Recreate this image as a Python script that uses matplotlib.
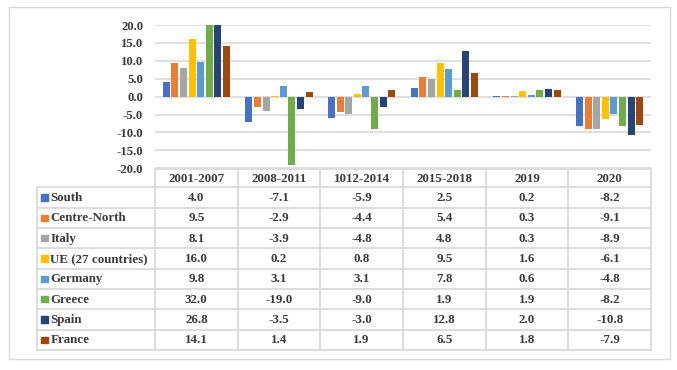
import matplotlib
matplotlib.use("Agg")
import matplotlib.pyplot as plt
from matplotlib.patches import Rectangle
import numpy as np

periods = ["2001-2007", "2008-2011", "1012-2014", "2015-2018", "2019", "2020"]
series_names = ["South", "Centre-North", "Italy", "UE (27 countries)", "Germany",
                "Greece", "Spain", "France"]
south = [4.0, -7.1, -5.9, 2.5, 0.2, -8.2]
centre_north = [9.5, -2.9, -4.4, 5.4, 0.3, -9.1]
italy = [8.1, -3.9, -4.8, 4.8, 0.3, -8.9]
ue27 = [16.0, 0.2, 0.8, 9.5, 1.6, -6.1]
germany = [9.8, 3.1, 3.1, 7.8, 0.6, -4.8]
greece = [32.0, -19.0, -9.0, 1.9, 1.9, -8.2]
spain = [26.8, -3.5, -3.0, 12.8, 2.0, -10.8]
france = [14.1, 1.4, 1.9, 6.5, 1.8, -7.9]
series_values = [south, centre_north, italy, ue27, germany, greece, spain, france]
colors = ["#4472C4", "#ED7D31", "#A5A5A5", "#FFC000", "#5B9BD5", "#70AD47",
          "#264478", "#9E480E"]
yticks = [-20, -15, -10, -5, 0, 5, 10, 15, 20]

W, H = 677, 370
plt.rcParams['font.family'] = ['Liberation Serif', 'DejaVu Serif']
txt_color = "#3A3A3A"
grid_color = "#D9D9D9"

fig = plt.figure(figsize=(W / 100, H / 100), dpi=100)

# overlay axes in pixel coordinates for borders and table
ov = fig.add_axes([0, 0, 1, 1])
ov.set_xlim(0, W)
ov.set_ylim(H, 0)
ov.axis("off")

# outer border
ov.add_patch(Rectangle((8.5, 7), 661, 352, fill=False, edgecolor=grid_color, lw=1))

# chart axes
x0, x1 = 155, 651
ytop, ybot = 25, 168.3
ax = fig.add_axes([x0 / W, 1 - ybot / H, (x1 - x0) / W, (ybot - ytop) / H])
ax.set_xlim(0, len(periods))
ax.set_ylim(-20, 20)
for s in ax.spines.values():
    s.set_visible(False)
ax.set_yticks(yticks)
ax.set_yticklabels([f"{v:.1f}" for v in yticks], fontsize=9.2, fontweight="bold",
                   color=txt_color)
ax.tick_params(axis="y", length=0, pad=8.5)
ax.set_xticks([])
ax.grid(axis="y", color=grid_color, lw=1.2)
ax.set_axisbelow(True)
ax.patch.set_alpha(0)

n = len(series_names)
pitch = 0.104
bw = 0.085
xs = np.arange(len(periods)) + 0.5
for i, (vals, c) in enumerate(zip(series_values, colors)):
    off = (i - (n - 1) / 2) * pitch
    ax.bar(xs + off, vals, width=bw, color=c, zorder=3)

# table
col_edges = [36.7, 155, 237.7, 320.3, 403, 485.7, 568.3, 651]
header_top = 169
header_bot = 187.3
row_h = (350 - header_bot) / n
tl = dict(color=grid_color, lw=1.3)
fs = 9.4
# header cells
ov.plot([col_edges[1], col_edges[-1]], [header_top, header_top], **tl)
for xe in col_edges[1:]:
    ov.plot([xe, xe], [header_top, 350], **tl)
ov.plot([col_edges[0], col_edges[0]], [header_bot, 350], **tl)
for r in range(n + 1):
    y = header_bot + r * row_h
    ov.plot([col_edges[0], col_edges[-1]], [y, y], **tl)
for j, p in enumerate(periods):
    cx = (col_edges[j + 1] + col_edges[j + 2]) / 2
    ov.text(cx, (header_top + header_bot) / 2 + 0.5, p, ha="center", va="center",
            fontsize=fs, fontweight="bold", color=txt_color)
for r, (name, vals, c) in enumerate(zip(series_names, series_values, colors)):
    cy = header_bot + (r + 0.5) * row_h
    ov.add_patch(Rectangle((41, cy - 3.3), 6.5, 6.5, color=c))
    ov.text(50.5, cy + 0.5, name, ha="left", va="center", fontsize=fs,
            fontweight="bold", color=txt_color)
    for j, v in enumerate(vals):
        cx = (col_edges[j + 1] + col_edges[j + 2]) / 2
        ov.text(cx, cy + 0.5, f"{v:.1f}", ha="center", va="center", fontsize=fs,
                fontweight="bold", color=txt_color)

fig.savefig("out.png", dpi=100)
